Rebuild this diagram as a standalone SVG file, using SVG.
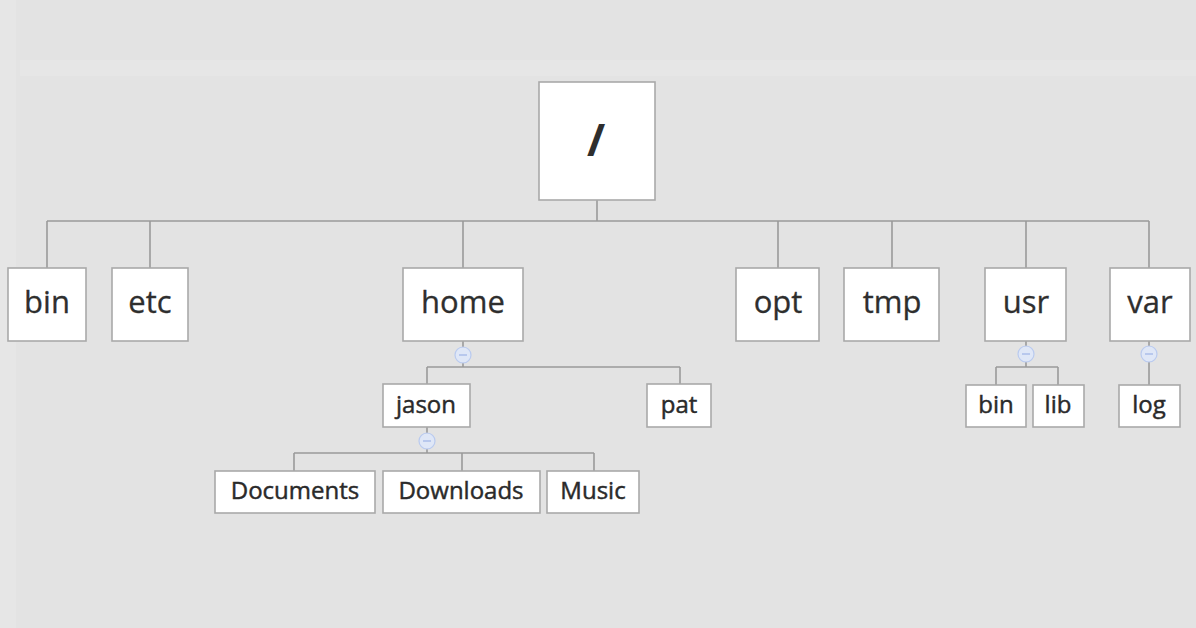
<svg xmlns="http://www.w3.org/2000/svg" width="1196" height="628" viewBox="0 0 1196 628">
<style>
.box{fill:#ffffff;stroke:#a9a9a9;stroke-width:1.6}
.l1{font-family:"Open Sans","Noto Sans","DejaVu Sans",sans-serif;font-size:31px;fill:#2e2e2e;stroke:#2e2e2e;stroke-width:0.3;text-anchor:middle}
.l2{font-family:"Open Sans","Noto Sans","DejaVu Sans",sans-serif;font-size:24px;fill:#2a2a2a;stroke:#2a2a2a;stroke-width:0.45;text-anchor:middle}
.root{font-family:"Open Sans","Noto Sans","DejaVu Sans",sans-serif;font-size:44px;font-weight:700;fill:#2e2e2e;text-anchor:middle}
.ln{fill:none;stroke:#9a9a9a;stroke-width:1.6}
.tog circle{fill:#dfe7f7;stroke:#b9caef;stroke-width:1.2}
.tog line{stroke:#9fb4e6;stroke-width:1.2}
</style>
<rect width="1196" height="628" fill="#e3e3e3"/>
<rect x="20" y="60" width="1176" height="16" fill="#e6e6e6"/>
<rect x="0" y="0" width="16" height="628" fill="#e6e6e6"/>

<g id="connectors">
<path class="ln" d="M597 200V221M47 221H1149M47 221V268M150 221V268M463 221V268M778 221V268M892 221V268M1026 221V268M1149 221V268"/>
<path class="ln" d="M463 341V367M427 367H680M427 367V384M680 367V384"/>
<path class="ln" d="M427 427V453M294 453H594M294 453V471M462 453V471M594 453V471"/>
<path class="ln" d="M1026 341V367M996 367H1058M996 367V385M1058 367V385"/>
<path class="ln" d="M1149 341V385"/>
<g class="tog"><circle cx="463" cy="355" r="8"/><line x1="459" y1="355" x2="467" y2="355"/></g>
<g class="tog"><circle cx="427" cy="441" r="8"/><line x1="423" y1="441" x2="431" y2="441"/></g>
<g class="tog"><circle cx="1026" cy="354" r="8"/><line x1="1022" y1="354" x2="1030" y2="354"/></g>
<g class="tog"><circle cx="1149" cy="354" r="8"/><line x1="1145" y1="354" x2="1153" y2="354"/></g>
</g>

<g id="node-root"><rect class="box" x="539" y="82" width="116" height="118"/><text class="root" x="596" y="156">/</text></g>

<g id="node-bin"><rect class="box" x="8" y="268" width="78" height="73"/><text class="l1" x="47" y="313">bin</text></g>
<g id="node-etc"><rect class="box" x="112" y="268" width="76" height="73"/><text class="l1" x="150" y="313">etc</text></g>
<g id="node-home"><rect class="box" x="403" y="268" width="120" height="73"/><text class="l1" x="463" y="313">home</text></g>
<g id="node-opt"><rect class="box" x="736" y="268" width="83" height="73"/><text class="l1" x="778" y="313">opt</text></g>
<g id="node-tmp"><rect class="box" x="844" y="268" width="95" height="73"/><text class="l1" x="892" y="313">tmp</text></g>
<g id="node-usr"><rect class="box" x="985" y="268" width="81" height="73"/><text class="l1" x="1026" y="313">usr</text></g>
<g id="node-var"><rect class="box" x="1110" y="268" width="80" height="73"/><text class="l1" x="1150" y="313">var</text></g>

<g id="node-jason"><rect class="box" x="383" y="384" width="87" height="43"/><text class="l2" x="426" y="413">jason</text></g>
<g id="node-pat"><rect class="box" x="647" y="384" width="64" height="43"/><text class="l2" x="679" y="413">pat</text></g>

<g id="node-documents"><rect class="box" x="215" y="471" width="160" height="42"/><text class="l2" x="295" y="499">Documents</text></g>
<g id="node-downloads"><rect class="box" x="383" y="471" width="157" height="42"/><text class="l2" x="461" y="499">Downloads</text></g>
<g id="node-music"><rect class="box" x="547" y="471" width="92" height="42"/><text class="l2" x="593" y="499">Music</text></g>

<g id="node-usr-bin"><rect class="box" x="966" y="385" width="60" height="42"/><text class="l2" x="996" y="413">bin</text></g>
<g id="node-usr-lib"><rect class="box" x="1033" y="385" width="51" height="42"/><text class="l2" x="1058" y="413">lib</text></g>
<g id="node-log"><rect class="box" x="1119" y="385" width="61" height="42"/><text class="l2" x="1149" y="413">log</text></g>
</svg>
